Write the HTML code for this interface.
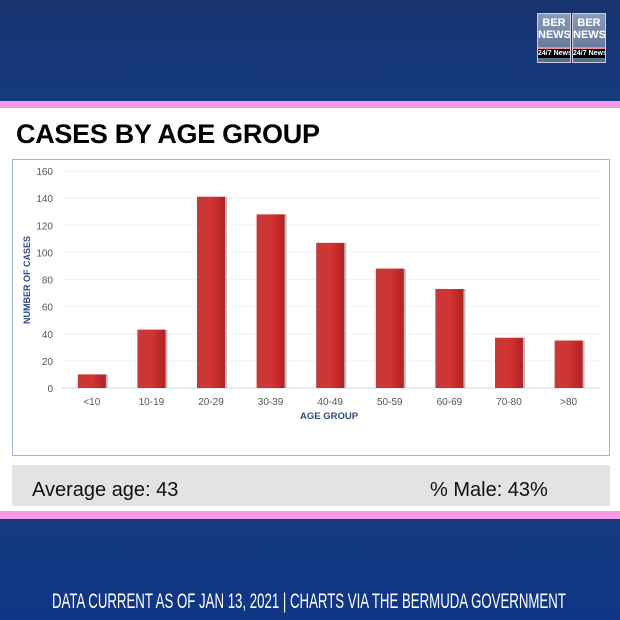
<!DOCTYPE html>
<html><head><meta charset="utf-8"><style>
body{margin:0;width:620px;height:620px;overflow:hidden;font-family:"Liberation Sans",sans-serif;position:relative;background:#0f2f6e}
.abs{position:absolute}
.logo-tile{position:absolute;top:0;width:34px;height:50px;overflow:hidden;background:linear-gradient(#8a9bb8,#5a6d90);border:1px solid #ccd;font:bold 11px 'Liberation Sans',sans-serif;color:#fff;text-align:center;line-height:12px;padding-top:3px;box-sizing:border-box}
.logo-tile div{background:#000;font-size:7px;line-height:9px;margin-top:6px;border-top:2px solid #e8a;white-space:nowrap}
</style></head><body>
<div class="abs" style="left:0;top:0;width:620px;height:101px;background:linear-gradient(180deg,#17336e,#153a80)"></div>
<div class="abs" style="left:537px;top:13px;width:70px;height:50px">
 <div class="logo-tile" style="left:0">BER<br>NEWS<div>24/7 News</div></div>
 <div class="logo-tile" style="left:35px">BER<br>NEWS<div>24/7 News</div></div>
</div>
<div class="abs" style="left:0;top:101px;width:620px;height:7px;background:#f59ae6"></div>
<div class="abs" style="left:0;top:108px;width:620px;height:403px;background:#fff"></div>
<div class="abs" style="left:16px;top:119px;font-weight:bold;font-size:27px;color:#000;letter-spacing:-0.3px">CASES BY AGE GROUP</div>
<div class="abs" style="left:12px;top:159px;width:596px;height:295px;border:1px solid #9fb7d6"></div>
<svg class="abs" style="left:0;top:0" width="620" height="620">
<defs>
<linearGradient id="bg" x1="0" x2="1"><stop offset="0" stop-color="#c43a3a"/><stop offset="0.5" stop-color="#d43333"/><stop offset="1" stop-color="#b02222"/></linearGradient>
</defs>
<g id="grid"></g><g id="bars"></g><g id="labels"></g>
<text x="30" y="280" transform="rotate(-90 30 280)" text-anchor="middle" font-size="9" font-weight="bold" fill="#2d4a80">NUMBER OF CASES</text>
<text x="329" y="419" text-anchor="middle" font-size="9.5" font-weight="bold" fill="#2d4a80">AGE GROUP</text>
</svg>
<div class="abs" style="left:12px;top:465px;width:598px;height:41px;background:#e3e3e3"></div>
<div class="abs" style="left:32px;top:479px;font-size:20px;color:#111">Average age: 43</div>
<div class="abs" style="left:430px;top:479px;font-size:20px;color:#111">% Male: 43%</div>
<div class="abs" style="left:0;top:511px;width:620px;height:8px;background:#f59ae6"></div>
<div class="abs" style="left:0;top:519px;width:620px;height:101px;background:linear-gradient(180deg,#153a80,#0f3586)"></div>
<div class="abs" style="left:52px;top:590px;width:820px;font-size:21px;color:#fff;white-space:nowrap;transform:scaleX(0.63);transform-origin:0 0">DATA CURRENT AS OF JAN 13, 2021 | CHARTS VIA THE BERMUDA GOVERNMENT</div>
<script>
const categories=["<10","10-19","20-29","30-39","40-49","50-59","60-69","70-80",">80"];
const values=[10,43,141,128,107,88,73,37,35];
const ticks=[0,20,40,60,80,100,120,140,160];
const NS="http://www.w3.org/2000/svg";
const y0=388,y1=171,vmax=160,x0=62,step=59.6,bw=28;
const yS=v=>y0-(v/vmax)*(y0-y1);
const xC=i=>x0+step*(i+0.5);
function mk(t,a){const e=document.createElementNS(NS,t);for(const k in a)e.setAttribute(k,a[k]);return e;}
const grid=document.getElementById('grid'),bars=document.getElementById('bars'),labels=document.getElementById('labels');
ticks.forEach(t=>{
 const l=mk('line',{x1:62,x2:600,y1:yS(t),y2:yS(t),stroke:t===0?'#c8d6ea':'#eef2f8','stroke-width':1});
 
 
 grid.appendChild(l);
 const tx=mk('text',{x:53,y:yS(t)+4,'text-anchor':'end','font-size':10,fill:'#555'});
 tx.textContent=t;
 
 
 labels.appendChild(tx);
});
categories.forEach((c,i)=>{
 const h=y0-yS(values[i]);
 const s=mk('rect',{x:xC(i)-bw/2+2,y:yS(values[i]),width:bw,height:h,fill:'#bbb'});
 
 
 bars.appendChild(s);
 const r=mk('rect',{x:xC(i)-bw/2,y:yS(values[i]),width:bw,height:h,fill:'url(#bg)'});
 
 
 bars.appendChild(r);
 const tx=mk('text',{x:xC(i),y:405,'text-anchor':'middle','font-size':10,fill:'#555'});
 tx.textContent=c;
 
 
 labels.appendChild(tx);
});
</script>
</body></html>
